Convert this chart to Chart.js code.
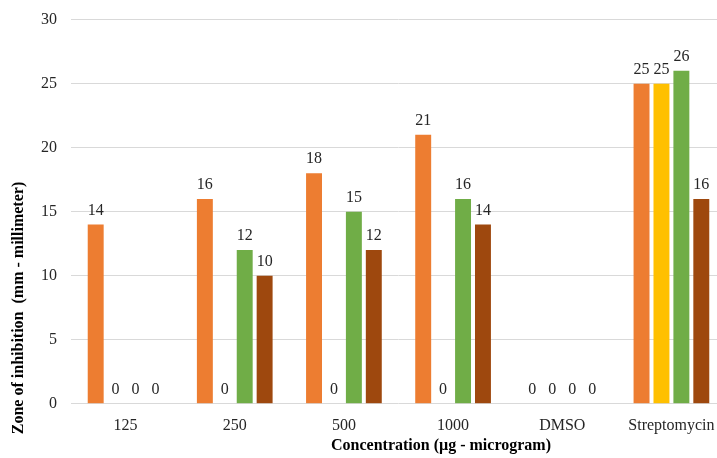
<!DOCTYPE html>
<html>
<head>
<meta charset="utf-8">
<script src="https://cdn.jsdelivr.net/npm/chart.js@4"></script>
<style>
  html, body { margin: 0; padding: 0; background: #fff; overflow: hidden; }
  #wrap { width: 727px; height: 462px; margin-top: -4px; }
</style>
</head>
<body>
<div id="wrap"><canvas id="myChart"></canvas></div>
<script>
// concentrations on the x axis
const categories = ['125', '250', '500', '1000', 'DMSO', 'Streptomycin'];
// zone of inhibition (mm) for each of the four series
const series1 = [14, 16, 18, 21, 0, 25];
const series2 = [0, 0, 0, 0, 0, 25];
const series3 = [0, 12, 15, 16, 0, 26];
const series4 = [0, 10, 12, 14, 0, 16];
const seriesNames = ['Series 1', 'Series 2', 'Series 3', 'Series 4'];
const seriesColors = ['#ED7D31', '#FFC000', '#70AD47', '#9E480E'];
const yTicks = [0, 5, 10, 15, 20, 25, 30];
const xTitle = 'Concentration (µg - microgram)';
const yTitle = 'Zone of inhibition  (mm - millimeter)';

const font = 'Liberation Serif';

// value labels above each bar (no datalabels plugin here)
const valueLabels = {
  id: 'valueLabels',
  afterDatasetsDraw(chart) {
    const ctx = chart.ctx;
    ctx.save();
    ctx.font = '16px "' + font + '"';
    ctx.fillStyle = '#262626';
    ctx.textAlign = 'center';
    ctx.textBaseline = 'alphabetic';
    chart.data.datasets.forEach((ds, i) => {
      chart.getDatasetMeta(i).data.forEach((bar, j) => {
        ctx.fillText(ds.data[j], bar.x, bar.y - 10);
      });
    });
    ctx.restore();
  }
};

// axis titles, placed off-centre like the original
// (canvas is shifted up 4px, so +4 on y)
const axisTitles = {
  id: 'axisTitles',
  afterDraw(chart) {
    const ctx = chart.ctx;
    ctx.save();
    ctx.font = 'bold 16px "' + font + '"';
    ctx.fillStyle = '#000';
    ctx.textAlign = 'center';
    ctx.textBaseline = 'middle';
    ctx.fillText(xTitle, 441, 450);
    ctx.translate(19, 312);
    ctx.rotate(-Math.PI / 2);
    ctx.fillText(yTitle, 0, 0);
    ctx.restore();
  }
};

const allSeries = [series1, series2, series3, series4];

new Chart(document.getElementById('myChart'), {
  type: 'bar',
  data: {
    labels: categories,
    datasets: allSeries.map((d, i) => ({
      label: seriesNames[i],
      data: d,
      backgroundColor: seriesColors[i],
      barPercentage: 0.8,
      categoryPercentage: 0.73
    }))
  },
  options: {
    responsive: true,
    maintainAspectRatio: false,
    animation: false,
    layout: { padding: { top: 1, right: 1, left: 27, bottom: 19 } },
    plugins: {
      legend: { display: false },
      tooltip: { enabled: false }
    },
    scales: {
      x: {
        grid: { display: false },
        border: { display: false },
        ticks: { color: '#262626', font: { family: font, size: 16 }, padding: 4 }
      },
      y: {
        min: 0,
        max: 30,
        afterBuildTicks: axis => { axis.ticks = yTicks.map(v => ({ value: v })); },
        grid: { color: '#d9d9d9', drawTicks: false },
        border: { display: false },
        ticks: { color: '#262626', font: { family: font, size: 16 }, padding: 14 }
      }
    }
  },
  plugins: [valueLabels, axisTitles]
});
</script>
</body>
</html>
